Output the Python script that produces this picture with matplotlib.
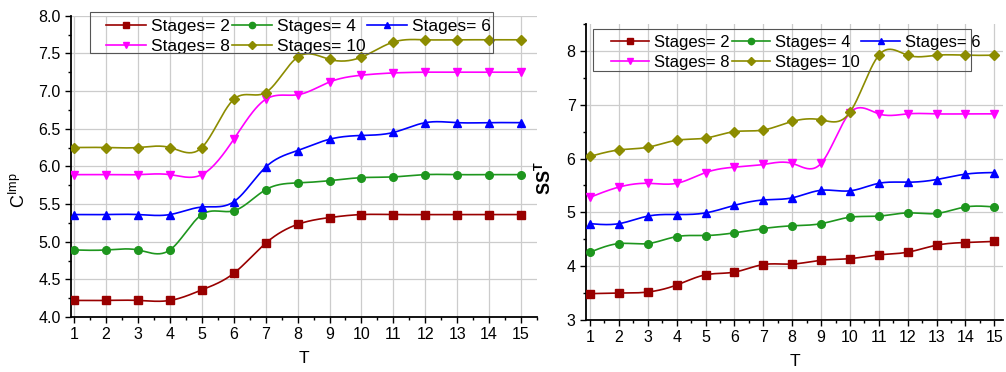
import numpy as np
import matplotlib
matplotlib.use("Agg")
import matplotlib.pyplot as plt
from matplotlib.ticker import MultipleLocator
from matplotlib.patches import Rectangle

plt.rcParams['font.family'] = ['Liberation Sans', 'DejaVu Sans']

T = list(range(1, 16))
labels = ["Stages= 2", "Stages= 4", "Stages= 6", "Stages= 8", "Stages= 10"]
colors = ["#990000", "#1e961e", "#0000ff", "#ff00ff", "#8c8c00"]
markers = ["s", "o", "^", "v", "D"]

# Left panel: C^Imp
c_s2 = [4.22, 4.22, 4.22, 4.22, 4.36, 4.58, 4.98, 5.23, 5.32, 5.36, 5.36, 5.36, 5.36, 5.36, 5.36]
c_s4 = [4.89, 4.89, 4.89, 4.89, 5.36, 5.41, 5.69, 5.78, 5.81, 5.85, 5.86, 5.89, 5.89, 5.89, 5.89]
c_s6 = [5.36, 5.36, 5.36, 5.36, 5.46, 5.53, 5.99, 6.21, 6.36, 6.41, 6.45, 6.58, 6.58, 6.58, 6.58]
c_s8 = [5.89, 5.89, 5.89, 5.89, 5.89, 6.36, 6.89, 6.95, 7.12, 7.21, 7.24, 7.25, 7.25, 7.25, 7.25]
c_s10 = [6.25, 6.25, 6.25, 6.25, 6.25, 6.89, 6.98, 7.45, 7.42, 7.45, 7.65, 7.68, 7.68, 7.68, 7.68]

# Right panel: SS^T
ss_s2 = [3.49, 3.50, 3.52, 3.65, 3.84, 3.89, 4.03, 4.04, 4.11, 4.14, 4.21, 4.26, 4.39, 4.44, 4.46]
ss_s4 = [4.26, 4.42, 4.42, 4.55, 4.57, 4.62, 4.70, 4.75, 4.79, 4.91, 4.93, 4.99, 4.98, 5.10, 5.10]
ss_s6 = [4.79, 4.79, 4.93, 4.96, 4.99, 5.13, 5.23, 5.27, 5.41, 5.40, 5.54, 5.56, 5.61, 5.71, 5.74]
ss_s8 = [5.28, 5.47, 5.54, 5.54, 5.74, 5.84, 5.89, 5.91, 5.91, 6.85, 6.83, 6.83, 6.83, 6.83, 6.83]
ss_s10 = [6.04, 6.16, 6.21, 6.34, 6.38, 6.50, 6.53, 6.69, 6.72, 6.86, 7.92, 7.92, 7.92, 7.92, 7.92]


def natural_spline(x, y, n=25):
    x = np.asarray(x, float)
    y = np.asarray(y, float)
    m = len(x)
    h = np.diff(x)
    A = np.zeros((m, m))
    b = np.zeros(m)
    A[0, 0] = 1
    A[-1, -1] = 1
    for i in range(1, m - 1):
        A[i, i - 1] = h[i - 1]
        A[i, i] = 2 * (h[i - 1] + h[i])
        A[i, i + 1] = h[i]
        b[i] = 3 * ((y[i + 1] - y[i]) / h[i] - (y[i] - y[i - 1]) / h[i - 1])
    c = np.linalg.solve(A, b)
    xs, ys = [], []
    for i in range(m - 1):
        bi = (y[i + 1] - y[i]) / h[i] - h[i] * (2 * c[i] + c[i + 1]) / 3
        di = (c[i + 1] - c[i]) / (3 * h[i])
        t = np.linspace(0, h[i], n, endpoint=(i == m - 2))
        xs.append(x[i] + t)
        ys.append(y[i] + bi * t + c[i] * t ** 2 + di * t ** 3)
    return np.concatenate(xs), np.concatenate(ys)


W, H = 1006, 372
fig = plt.figure(figsize=(W / 100, H / 100), dpi=100)
axL = fig.add_axes([71 / W, 55 / H, 466 / W, 301.3 / H])
axR = fig.add_axes([586 / W, 52 / H, 417 / W, 296 / H])


def draw(ax, series):
    handles = []
    for vals, lab, col, mk in zip(series, labels, colors, markers):
        xs, ys = natural_spline(T, vals)
        ax.plot(xs, ys, color=col, lw=1.2, zorder=3)
        ax.plot(T, vals, ls='none', marker=mk, color=col, ms=5.5 if mk != 'D' else 4.8,
                mec=col, zorder=4)
        h, = ax.plot([], [], color=col, lw=1.2, marker=mk, ms=4.5 if mk != 'D' else 4, mec=col)
        handles.append(h)
    for s in ['top', 'right']:
        ax.spines[s].set_visible(False)
    for s in ['left', 'bottom']:
        ax.spines[s].set_linewidth(1.3)
    ax.grid(True, which='major', color='#cccccc', lw=0.9, zorder=0)
    ax.set_axisbelow(True)
    ax.xaxis.set_major_locator(MultipleLocator(1))
    ax.xaxis.set_minor_locator(MultipleLocator(0.5))
    ax.tick_params(which='major', direction='out', length=4, width=1, labelsize=11.5)
    ax.tick_params(which='minor', direction='out', length=2.5, width=1)
    ax.set_xlabel("T", fontsize=12.5, labelpad=6)
    return handles


hL = draw(axL, [c_s2, c_s4, c_s6, c_s8, c_s10])
axL.set_xlim(0.9, 15.5)
axL.set_ylim(4.0, 8.0)
axL.yaxis.set_major_locator(MultipleLocator(0.5))
axL.yaxis.set_minor_locator(MultipleLocator(0.25))
axL.yaxis.set_major_formatter(matplotlib.ticker.FormatStrFormatter('%.1f'))
axL.set_ylabel(r"C$^{\mathregular{Imp}}$", fontsize=13)
axL.yaxis.set_label_coords(-0.09, 0.42)

hR = draw(axR, [ss_s2, ss_s4, ss_s6, ss_s8, ss_s10])
axR.set_xlim(0.86, 15.3)
axR.set_ylim(3, 8.5)
axR.yaxis.set_major_locator(MultipleLocator(1))
axR.yaxis.set_minor_locator(MultipleLocator(0.5))
axR.set_ylabel(r"SS$^{\mathregular{T}}$", fontsize=13, fontweight='bold')
axR.yaxis.set_label_coords(-0.075, 0.48)

order = [0, 3, 1, 4, 2]


def legend(ax, handles, x, y, fs, box):
    leg = ax.legend([handles[i] for i in order], [labels[i] for i in order], loc='upper left',
                    bbox_to_anchor=(x / W, 1 - y / H), bbox_transform=fig.transFigure,
                    ncol=3, fontsize=fs, frameon=False, handlelength=2.3, handletextpad=0.3,
                    columnspacing=0.1, labelspacing=0.28, borderpad=0, borderaxespad=0)
    x0, y0, x1, y1 = box
    fig.patches.append(Rectangle((x0 / W, 1 - y1 / H), (x1 - x0) / W, (y1 - y0) / H,
                                 transform=fig.transFigure, fill=False, ec='#555555', lw=0.8))
    return leg


legend(axL, hL, 106, 19, 12.5, (90, 12, 493, 53))
legend(axR, hR, 611, 35, 12, (593, 29, 971, 71))

fig.savefig("out.png", dpi=100)
